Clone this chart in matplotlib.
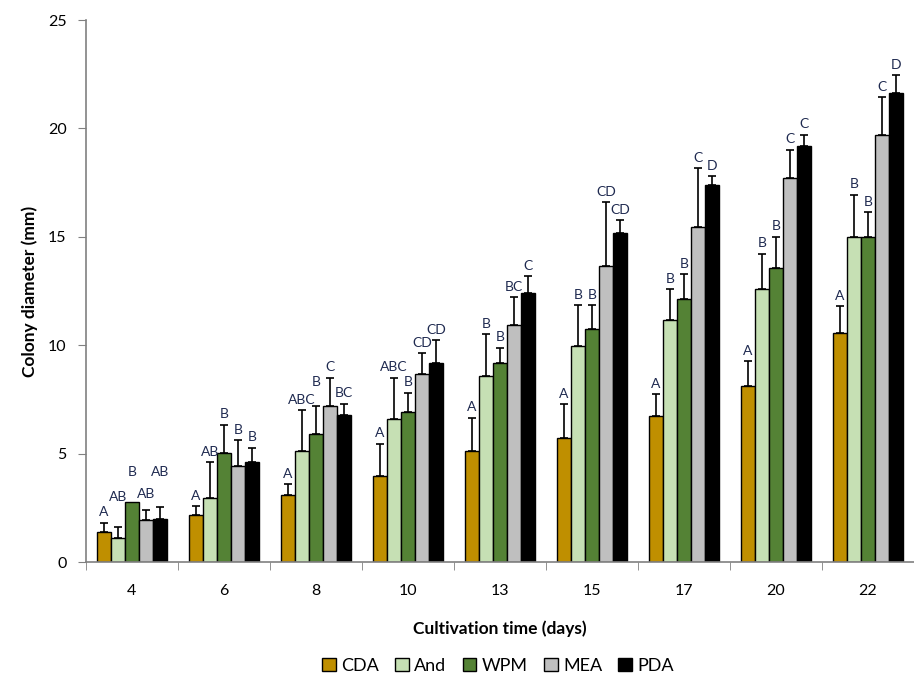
import matplotlib
matplotlib.use('Agg')
import matplotlib.pyplot as plt
from matplotlib.patches import Patch
import numpy as np

plt.rcParams['font.family'] = ['Lato', 'DejaVu Sans']

# cultivation day groups
days = ['4', '6', '8', '10', '13', '15', '17', '20', '22']
media = ['CDA', 'And', 'WPM', 'MEA', 'PDA']

# mean colony diameter (mm) per medium
cda = [1.37, 2.17, 3.11, 3.97, 5.10, 5.70, 6.75, 8.13, 10.58]
andm = [1.09, 2.95, 5.12, 6.58, 8.58, 9.96, 11.18, 12.58, 15.00]
wpm = [2.75, 5.03, 5.89, 6.92, 9.16, 10.75, 12.15, 13.55, 15.00]
mea = [1.95, 4.43, 7.20, 8.66, 10.92, 13.67, 15.45, 17.71, 19.71]
pda = [2.00, 4.61, 6.80, 9.19, 12.41, 15.19, 17.37, 19.19, 21.65]

# upper error bars (SD)
cda_err = [0.44, 0.41, 0.49, 1.49, 1.56, 1.57, 0.98, 1.14, 1.21]
and_err = [0.54, 1.65, 1.89, 1.91, 1.92, 1.89, 1.40, 1.64, 1.93]
wpm_err = [0.00, 1.30, 1.31, 0.88, 0.73, 1.10, 1.12, 1.45, 1.13]
mea_err = [0.45, 1.18, 1.29, 0.97, 1.30, 2.92, 2.71, 1.31, 1.72]
pda_err = [0.52, 0.66, 0.49, 1.04, 0.78, 0.58, 0.42, 0.52, 0.80]

# significance letters
cda_lab = ['A', 'A', 'A', 'A', 'A', 'A', 'A', 'A', 'A']
and_lab = ['AB', 'AB', 'ABC', 'ABC', 'B', 'B', 'B', 'B', 'B']
wpm_lab = ['B', 'B', 'B', 'B', 'B', 'B', 'B', 'B', 'B']
mea_lab = ['AB', 'B', 'C', 'CD', 'BC', 'CD', 'C', 'C', 'C']
pda_lab = ['AB', 'B', 'BC', 'CD', 'C', 'CD', 'D', 'C', 'D']

values = [cda, andm, wpm, mea, pda]
errors = [cda_err, and_err, wpm_err, mea_err, pda_err]
letters = [cda_lab, and_lab, wpm_lab, mea_lab, pda_lab]
colors = ['#BF8F00', '#C6E0B4', '#548235', '#BFBFBF', '#000000']

# some letters sit higher in the original (series, group): extra height
label_bump = {(1, 0): 0.9, (2, 0): 0.9, (3, 0): 0.25, (4, 0): 1.15, (2, 2): 0.6}

fig = plt.figure(figsize=(9.14, 6.78), dpi=100)
ax = fig.add_axes([0.094, 0.171, 0.906, 0.7995])

x = np.arange(len(days))
w = 0.153
for k in range(len(media)):
    pos = x + (k - 2) * w
    v = np.array(values[k])
    e = np.array(errors[k])
    ax.bar(pos, v, w, color=colors[k], edgecolor='black', linewidth=1.0,
           label=media[k], zorder=2)
    # only draw bars that actually have an error value
    m = e > 0
    ax.errorbar(pos[m], v[m], yerr=[np.zeros(m.sum()), e[m]], fmt='none', ecolor='black',
                elinewidth=1.2, capsize=2.8, capthick=1.2, zorder=3)
    for i in range(len(days)):
        yl = v[i] + e[i] + 0.3 + label_bump.get((k, i), 0)
        ax.text(pos[i], yl, letters[k][i], ha='center', va='baseline',
                fontsize=10, color='#1F2A50')

ax.set_xlim(-0.5, len(days) - 0.5)
ax.set_ylim(0, 25)
ax.set_yticks([0, 5, 10, 15, 20, 25])
ax.set_xticks(x)
ax.set_xticklabels(days)
ax.set_xticks(np.arange(-0.5, len(days), 1.0), minor=True)
ax.tick_params(axis='x', which='major', length=0, pad=16, labelsize=11.5)
ax.tick_params(axis='x', which='minor', length=6, color='#808080', direction='out')
ax.tick_params(axis='y', length=6, color='#808080', labelsize=11.5, pad=8)

for s in ['top', 'right']:
    ax.spines[s].set_visible(False)
for s in ['left', 'bottom']:
    ax.spines[s].set_color('#808080')
    ax.spines[s].set_linewidth(1.2)

ax.set_ylabel('Colony diameter (mm)', fontsize=12.5, fontweight='bold', labelpad=7)
ax.set_xlabel('Cultivation time (days)', fontsize=12.5, fontweight='bold', labelpad=16)

handles = [Patch(facecolor=c, edgecolor='black', linewidth=1.0) for c in colors]
fig.legend(handles, media, loc='center', bbox_to_anchor=(0.545, 0.018),
           ncol=5, frameon=False, fontsize=13, handlelength=0.75, handleheight=0.75,
           handletextpad=0.3, columnspacing=0.9)

plt.savefig('out.png', dpi=100)
